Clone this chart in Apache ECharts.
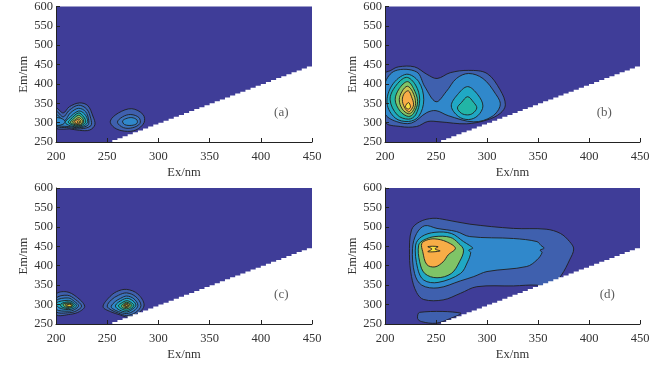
<!DOCTYPE html>
<html>
<head>
<meta charset="utf-8">
<title>EEM</title>
<script src="https://cdn.jsdelivr.net/npm/echarts@6/dist/echarts.min.js"></script>
<style>
html, body { margin: 0; padding: 0; background: #fff; }
#main { width: 666px; height: 366px; }
</style>
</head>
<body>
<div id="main"></div>
<script>
// tick labels
const exTicks = [200, 250, 300, 350, 400, 450]
const emTicks = [250, 300, 350, 400, 450, 500, 550, 600]
// lower edge of the measured region, 5 nm steps
const scatterEdge = [250, 255, 260, 265, 270, 275, 280, 285, 290, 295, 300, 305, 310, 315, 320, 325, 330, 335, 340, 345, 350, 355, 360, 365, 370, 375, 380, 385, 390, 395, 400, 405, 410, 415, 420, 425, 430, 435, 440, 445]

// contour fill colours, low to high
const levelColors = ['#3f60ae', '#3b72bb', '#3088cb', '#20a8c4', '#22b5a6', '#7fc467', '#c9c34f', '#f8ad47', '#f9e23f']

// contours: [level, [[ex, em], ...]]
const contoursA = [
  [0, [[200, 338], [207, 325], [213, 341], [223, 351], [231, 344], [236, 317], [238, 295], [233, 281], [223, 280], [213, 284], [207, 283], [200, 287]]],
  [1, [[200, 330], [207, 315], [213, 332], [222, 345], [230, 335], [234, 310], [234, 292], [224, 284], [212, 287], [200, 292]]],
  [2, [[200, 322], [208, 305], [214, 325], [222, 337], [229, 328], [232, 305], [231, 293], [223, 287], [212, 290], [200, 295]]],
  [2, [[200, 312], [206, 310], [209, 302], [206, 295], [200, 294]]],
  [3, [[212, 310], [222, 330], [228, 322], [231, 303], [228, 293], [222, 289], [214, 292], [209, 300]]],
  [4, [[214, 308], [222, 325], [227, 315], [229, 302], [226, 294], [222, 291], [216, 294], [212, 301]]],
  [5, [[216, 307], [222, 319], [226, 311], [227, 302], [225, 295], [222, 293], [217, 296], [214, 301]]],
  [6, [[218, 306], [222, 313], [225, 308], [226, 302], [224, 296], [222, 295], [219, 297], [216, 302]]],
  [7, [[219, 305], [222, 309], [224, 305], [224, 301], [222, 297], [220, 298], [218, 302]]],
  [8, [[221, 304], [223, 304], [223, 300], [221, 300]]],
  [0, [[274, 336], [285, 321], [286, 300], [278, 281], [267, 278], [257, 287], [253, 304], [261, 325]]],
  [1, [[273, 321], [281, 313], [282, 298], [275, 287], [266, 287], [260, 301], [265, 315]]],
  [2, [[274, 313], [279, 307], [279, 298], [274, 293], [267, 295], [265, 304], [268, 310]]]
]

const contoursB = [
  [0, [[200, 427], [205, 434], [213, 444], [229, 444], [241, 425], [251, 414], [264, 429], [282, 435], [300, 427], [313, 384], [318, 346], [313, 324], [300, 307], [280, 297], [254, 302], [242, 303], [231, 290], [215, 290], [200, 303]]],
  [2, [[200, 401], [210, 434], [231, 431], [239, 393], [250, 354], [260, 380], [270, 414], [282, 427], [296, 414], [308, 376], [313, 346], [305, 316], [287, 302], [262, 318], [250, 331], [241, 326], [226, 299], [211, 303], [200, 324]]],
  [3, [[221, 425], [233, 406], [238, 359], [233, 316], [223, 303], [210, 312], [202, 350], [207, 397]]],
  [4, [[221, 417], [230, 397], [234, 359], [230, 320], [223, 309], [212, 320], [205, 359], [210, 393]]],
  [5, [[222, 406], [228, 388], [232, 354], [228, 324], [223, 316], [215, 329], [210, 359], [214, 388]]],
  [6, [[222, 394], [227, 380], [230, 350], [227, 329], [223, 323], [217, 335], [214, 359], [217, 382]]],
  [7, [[223, 382], [226, 367], [228, 346], [225, 331], [223, 328], [219, 340], [217, 359], [219, 376]]],
  [8, [[223, 352], [225, 341], [223, 335], [220, 341]]],
  [3, [[281, 393], [291, 372], [296, 343], [291, 318], [282, 308], [272, 316], [265, 343], [271, 372]]],
  [4, [[281, 367], [287, 352], [290, 338], [286, 324], [281, 320], [275, 324], [271, 338], [275, 352]]]
]

const contoursC = [
  [0, [[200, 326], [210, 333], [220, 320], [228, 296], [223, 282], [214, 275], [200, 275]]],
  [1, [[200, 316], [211, 324], [219, 313], [225, 296], [220, 284], [213, 279], [200, 282]]],
  [2, [[200, 310], [212, 317], [218, 308], [222, 297], [218, 287], [212, 283], [200, 288]]],
  [3, [[200, 304], [212, 311], [217, 305], [220, 297], [217, 290], [212, 287], [203, 292]]],
  [4, [[205, 302], [212, 307], [216, 303], [218, 297], [215, 292], [211, 290], [205, 295]]],
  [5, [[207, 301], [213, 304], [216, 300], [216, 296], [213, 293], [209, 294]]],
  [6, [[209, 300], [213, 302], [215, 299], [214, 296], [211, 295]]],
  [8, [[211, 300], [215, 300], [215, 296], [211, 296]]],
  [0, [[269, 339], [280, 327], [286, 299], [280, 277], [270, 268], [263, 273], [253, 282], [246, 294], [251, 316], [259, 333]]],
  [1, [[269, 330], [278, 320], [283, 298], [278, 280], [269, 272], [261, 278], [254, 286], [250, 296], [254, 312], [261, 324]]],
  [2, [[269, 322], [276, 315], [280, 298], [276, 284], [269, 277], [261, 282], [255, 290], [254, 296], [258, 308], [263, 316]]],
  [3, [[269, 316], [275, 310], [278, 298], [274, 287], [269, 281], [262, 286], [258, 296], [261, 306]]],
  [4, [[269, 310], [273, 306], [276, 298], [273, 289], [269, 285], [264, 289], [261, 297], [264, 304]]],
  [5, [[269, 306], [272, 303], [274, 298], [272, 292], [269, 289], [265, 292], [264, 297], [266, 302]]],
  [6, [[269, 303], [272, 300], [272, 297], [270, 293], [267, 293], [266, 297], [267, 301]]],
  [7, [[269, 300], [271, 298], [269, 295], [267, 296], [267, 299]]],
  [8, [[268, 299], [270, 299], [270, 296], [268, 296]]]
]

const contoursD = [
  [0, [[247, 522], [260, 518], [283, 507], [326, 496], [358, 494], [372, 483], [381, 462], [385, 443], [381, 415], [373, 376], [362, 342], [349, 350], [326, 348], [290, 346], [274, 329], [257, 312], [238, 313], [231, 331], [226, 372], [224, 428], [226, 492], [234, 513]]],
  [0, [[234, 280], [274, 278], [262, 262], [250, 252], [236, 256], [232, 264]]],
  [2, [[251, 496], [270, 488], [283, 475], [326, 470], [349, 462], [353, 452], [356, 445], [352, 440], [354, 434], [349, 415], [339, 398], [300, 385], [287, 372], [274, 361], [252, 343], [236, 350], [229, 380], [227, 445], [231, 483], [239, 503]]],
  [3, [[249, 486], [265, 483], [277, 462], [283, 452], [286, 445], [282, 440], [284, 434], [281, 410], [274, 380], [252, 357], [238, 363], [232, 393], [230, 453], [236, 475]]],
  [5, [[249, 475], [264, 473], [272, 458], [277, 440], [273, 410], [265, 380], [251, 369], [239, 380], [234, 410], [233, 453], [238, 466]]],
  [7, [[249, 469], [260, 462], [269, 445], [262, 428], [257, 410], [249, 397], [241, 403], [237, 436], [236, 457], [241, 466]]],
  [8, [[242, 449], [252, 449], [249, 443], [254, 438], [242, 436], [246, 443]]]
]

const labelPos = [[420, 326], [415, 326], [420, 326], [418, 326]]
const panelNames = ['(a)', '(b)', '(c)', '(d)']
const panelContours = [contoursA, contoursB, contoursC, contoursD]
const panelBoxes = [
  { left: 56, top: 6, width: 256, height: 136 },
  { left: 385, top: 6, width: 255, height: 136 },
  { left: 56, top: 188, width: 256, height: 136 },
  { left: 385, top: 188, width: 255, height: 136 }
]

const fontName = '"Liberation Serif", "Times New Roman", serif'
const textColor = '#333'

function contourSeries(contours, i) {
  return {
    type: 'custom',
    xAxisIndex: i,
    yAxisIndex: i,
    clip: true,
    z: 2,
    data: contours.map((c, idx) => [idx]),
    silent: true,
    renderItem(params, api) {
      const c = contours[params.dataIndex]
      return {
        type: 'polygon',
        shape: { points: c[1].map(p => api.coord(p)), smooth: 0.35 },
        style: { fill: levelColors[c[0]], stroke: '#1f1f1f', lineWidth: 0.9 }
      }
    }
  }
}

function edgeSeries(i) {
  return {
    type: 'custom',
    xAxisIndex: i,
    yAxisIndex: i,
    clip: true,
    z: 3,
    silent: true,
    data: [[0]],
    renderItem(params, api) {
      const pts = [api.coord([250, 250])]
      scatterEdge.forEach(e => {
        pts.push(api.coord([e, e]))
        pts.push(api.coord([e + 5, e]))
      })
      pts.push(api.coord([450, 450]))
      pts.push(api.coord([450, 250]))
      return { type: 'polygon', shape: { points: pts }, style: { fill: '#fff' } }
    }
  }
}

function labelSeries(i) {
  return {
    type: 'scatter',
    xAxisIndex: i,
    yAxisIndex: i,
    symbolSize: 0,
    z: 5,
    silent: true,
    data: [labelPos[i]],
    label: {
      show: true,
      position: 'inside',
      formatter: panelNames[i],
      color: textColor,
      fontFamily: fontName,
      fontSize: 13
    }
  }
}

const axisBase = {
  nameLocation: 'middle',
  nameTextStyle: { color: textColor, fontFamily: fontName, fontSize: 12.5 },
  splitLine: { show: false },
  axisLine: { show: true, onZero: false, lineStyle: { color: '#222', width: 1 } },
  axisTick: { show: true, inside: true, length: 4, lineStyle: { color: '#222', width: 1 } },
  axisLabel: { color: textColor, fontFamily: fontName, fontSize: 12.5, showMinLabel: true, showMaxLabel: true, hideOverlap: false },
  z: 6
}

const option = {
  animation: false,
  backgroundColor: '#fff',
  grid: panelBoxes.map(b => Object.assign({ show: true, backgroundColor: '#3f3d98', borderWidth: 0 }, b)),
  xAxis: panelBoxes.map((b, i) => {
    const ax = Object.assign({}, axisBase, {
      type: 'value', gridIndex: i, name: 'Ex/nm', nameGap: 24,
      min: exTicks[0], max: exTicks[exTicks.length - 1], interval: 50
    })
    ax.axisLabel = Object.assign({}, axisBase.axisLabel, { margin: 8 })
    return ax
  }),
  yAxis: panelBoxes.map((b, i) => {
    const ax = Object.assign({}, axisBase, {
      type: 'value', gridIndex: i, name: 'Em/nm', nameGap: 24,
      min: emTicks[0], max: emTicks[emTicks.length - 1], interval: 50
    })
    ax.axisLabel = Object.assign({}, axisBase.axisLabel, { margin: 3 })
    return ax
  }),
  series: panelContours.flatMap((c, i) => [contourSeries(c, i), edgeSeries(i), labelSeries(i)])
}

const chart = echarts.init(document.getElementById('main'))
chart.setOption(option)
</script>
</body>
</html>
